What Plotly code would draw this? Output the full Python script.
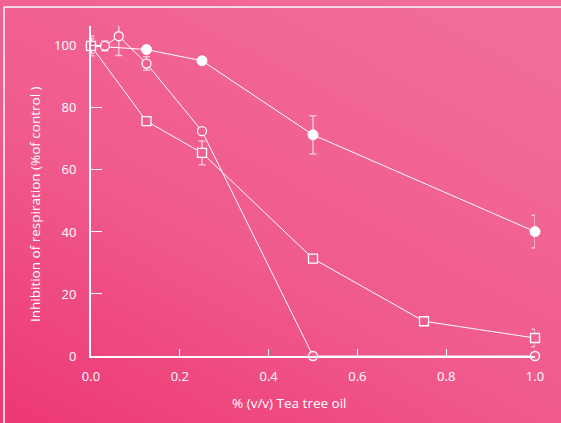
import plotly.graph_objects as go
import urllib.parse

# Data
conc_filled = [0.0, 0.125, 0.25, 0.5, 1.0]
inhib_filled = [100.0, 98.8, 95.2, 71.3, 40.1]
err_filled = [2.3, 0.0, 0.0, 6.2, 5.3]

conc_open = [0.0, 0.03125, 0.0625, 0.125, 0.25, 0.5, 1.0]
inhib_open = [100.0, 100.0, 103.1, 94.3, 72.5, 0.0, 0.0]
err_open = [0.0, 1.6, 6.2, 2.2, 0.0, 0.0, 0.0]

conc_square = [0.0, 0.125, 0.25, 0.5, 0.75, 1.0]
inhib_square = [100.0, 75.7, 65.5, 31.4, 11.2, 5.8]
err_square = [3.2, 0.0, 3.8, 0.0, 0.0, 2.8]

x_ticks = [0.0, 0.2, 0.4, 0.6, 0.8, 1.0]
x_tick_text = ["0.0", "0.2", "0.4", "0.6", "0.8", "1.0"]
y_ticks = [0, 20, 40, 60, 80, 100]

x_title = "% (v/v) Tea tree oil"
y_title = "Inhibition of respiration (%of control )"

FONT = "Open Sans"
WHITE = "#ffffff"
ERR = "rgba(255,255,255,0.62)"
FILL = "#f0608e"

svg = (
    "<svg xmlns='http://www.w3.org/2000/svg' width='561' height='423' viewBox='0 0 561 423' preserveAspectRatio='none'>"
    "<defs><linearGradient id='g' x1='0.75' y1='0' x2='0.05' y2='1'>"
    "<stop offset='0' stop-color='#f26c99'/>"
    "<stop offset='0.55' stop-color='#f05a8c'/>"
    "<stop offset='1' stop-color='#ed3974'/>"
    "</linearGradient></defs>"
    "<rect width='561' height='423' fill='url(#g)'/>"
    "</svg>"
)
bg_uri = "data:image/svg+xml;charset=utf-8," + urllib.parse.quote(svg)

fig = go.Figure()

fig.add_trace(go.Scatter(
    x=conc_filled, y=inhib_filled, mode="lines+markers",
    line=dict(color=WHITE, width=1),
    marker=dict(symbol="circle", size=10, color=WHITE, line=dict(color=WHITE, width=1)),
    error_y=dict(type="data", array=err_filled, color=ERR, thickness=1.5, width=3.5),
    cliponaxis=False, showlegend=False,
))
fig.add_trace(go.Scatter(
    x=conc_open, y=inhib_open, mode="lines+markers",
    line=dict(color=WHITE, width=1),
    marker=dict(symbol="circle", size=9, color=FILL, line=dict(color=WHITE, width=1.3)),
    error_y=dict(type="data", array=err_open, color=ERR, thickness=1.5, width=3.5),
    cliponaxis=False, showlegend=False,
))
fig.add_trace(go.Scatter(
    x=conc_square, y=inhib_square, mode="lines+markers",
    line=dict(color=WHITE, width=1),
    marker=dict(symbol="square", size=9, color=FILL, line=dict(color=WHITE, width=1.3)),
    error_y=dict(type="data", array=err_square, color=ERR, thickness=1.5, width=3.5),
    cliponaxis=False, showlegend=False,
))

fig.update_layout(
    width=561, height=423,
    margin=dict(l=91, r=26, t=26, b=67),
    paper_bgcolor="#f05a8c",
    plot_bgcolor="rgba(0,0,0,0)",
    font=dict(family=FONT, size=13, color=WHITE),
    images=[dict(source=bg_uri, xref="paper", yref="paper", x=-91/444, y=1 + 26/330,
                 sizex=561/444, sizey=423/330, xanchor="left", yanchor="top",
                 sizing="stretch", layer="below")],
    shapes=[
        dict(type="line", xref="paper", yref="paper", x0=-87/444, x1=1 + 40/444,
             y0=1 + 19/330, y1=1 + 19/330, line=dict(color=WHITE, width=1.5), layer="below"),
        dict(type="line", xref="paper", yref="paper", x0=-87/444, x1=-87/444,
             y0=-80/330, y1=1 + 19/330, line=dict(color=WHITE, width=1.5), layer="below"),
    ],
    annotations=[
        dict(text=x_title, xref="paper", yref="paper", x=(289 - 91) / 444, y=-(403 - 356) / 330,
             xanchor="center", yanchor="middle", showarrow=False, font=dict(size=13.5, color=WHITE, family=FONT)),
        dict(text=y_title, xref="paper", yref="paper", x=-(91 - 35) / 444, y=(356 - 204) / 330,
             xanchor="center", yanchor="middle", textangle=-90, showarrow=False,
             font=dict(size=13.5, color=WHITE, family=FONT)),
    ],
)

fig.update_xaxes(
    range=[0, 1.0], tickvals=x_ticks, ticktext=x_tick_text,
    showgrid=False, zeroline=False, showline=True, linecolor=WHITE, linewidth=2,
    ticks="inside", ticklen=7, tickwidth=1, tickcolor=WHITE,
    tickfont=dict(size=13, color=WHITE, family=FONT), ticklabelstandoff=7,
)
fig.update_yaxes(
    range=[0, 106.4], tickvals=y_ticks,
    showgrid=False, zeroline=False, showline=True, linecolor=WHITE, linewidth=2,
    ticks="inside", ticklen=11, tickwidth=1, tickcolor=WHITE,
    tickfont=dict(size=13, color=WHITE, family=FONT), ticklabelstandoff=10,
)

fig.write_html(
    "out.html",
    config={"displayModeBar": False},
    post_script="document.body.style.margin='0px';document.body.style.overflow='hidden';",
)
